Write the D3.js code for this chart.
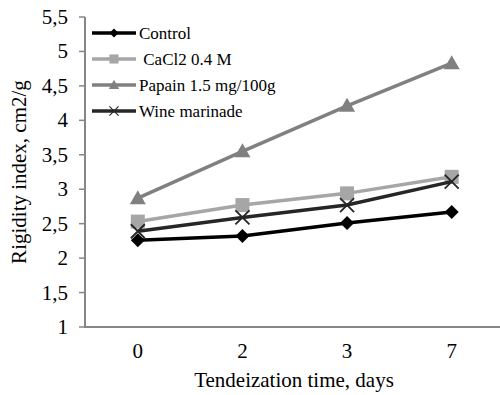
<!DOCTYPE html>
<html lang="en">
<head>
<meta charset="UTF-8">
<script src="https://d3js.org/d3.v7.min.js"></script>
<style>
  body { margin: 0; padding: 0; background: #fff; }
  svg { display: block; font-family: 'Liberation Serif', 'Times New Roman', serif; }
</style>
</head>
<body>
<svg width="500" height="395"></svg>
<script>
  const days = ["0", "2", "3", "7"];
  const control = [2.26, 2.32, 2.51, 2.67];
  const cacl2 = [2.53, 2.77, 2.94, 3.18];
  const papain = [2.87, 3.55, 4.21, 4.83];
  const wine = [2.39, 2.59, 2.77, 3.11];
  const yTicks = [1, 1.5, 2, 2.5, 3, 3.5, 4, 4.5, 5, 5.5];

  const series = [
    { name: "Control", values: control, color: "#000000", marker: "diamond" },
    { name: " CaCl2 0.4 M", values: cacl2, color: "#a6a6a6", marker: "square" },
    { name: "Papain 1.5 mg/100g", values: papain, color: "#808080", marker: "triangle" },
    { name: "Wine marinade", values: wine, color: "#262626", marker: "cross" }
  ];

  const svg = d3.select("svg");

  const x = d3.scaleBand().domain(days).range([85.5, 504]);
  const y = d3.scaleLinear().domain([1, 5.5]).range([327, 17]);

  // axes
  svg.append("line")
     .attr("x1", 85).attr("x2", 85)
     .attr("y1", y(5.5)).attr("y2", y(1))
     .attr("stroke", "#868686").attr("stroke-width", 2);
  svg.append("line")
     .attr("x1", 84).attr("x2", 500)
     .attr("y1", y(1)).attr("y2", y(1))
     .attr("stroke", "#868686").attr("stroke-width", 2);

  svg.selectAll(".ytick")
     .data(yTicks)
     .enter().append("line")
     .attr("x1", 79).attr("x2", 85)
     .attr("y1", d => y(d)).attr("y2", d => y(d))
     .attr("stroke", "#868686").attr("stroke-width", 1.5);

  svg.selectAll(".ylab")
     .data(yTicks)
     .enter().append("text")
     .attr("x", 68)
     .attr("y", d => y(d) + 7)
     .attr("text-anchor", "end")
     .attr("font-size", 21)
     .text(d => String(d).replace(".", ","));

  svg.selectAll(".xlab")
     .data(days)
     .enter().append("text")
     .attr("x", d => x(d) + x.bandwidth() / 2)
     .attr("y", 358)
     .attr("text-anchor", "middle")
     .attr("font-size", 21)
     .text(d => d);

  svg.append("text")
     .attr("x", 294).attr("y", 387)
     .attr("text-anchor", "middle")
     .attr("font-size", 21)
     .text("Tendeization time, days");

  svg.append("text")
     .attr("transform", "translate(26,172) rotate(-90)")
     .attr("text-anchor", "middle")
     .attr("font-size", 21)
     .text("Rigidity index, cm2/g");

  function drawMarker(g, type, color) {
    if (type === "diamond") {
      g.append("path").attr("d", "M0,-7L7,0L0,7L-7,0Z").attr("fill", color);
    } else if (type === "square") {
      g.append("rect").attr("x", -7).attr("y", -7).attr("width", 14).attr("height", 14).attr("fill", color);
    } else if (type === "triangle") {
      g.append("path").attr("d", "M0,-8L8,6L-8,6Z").attr("fill", color);
    } else {
      g.append("path").attr("d", "M-7,-7L7,7M-7,7L7,-7")
       .attr("stroke", color).attr("stroke-width", 1.8).attr("fill", "none");
    }
  }

  const line = d3.line()
    .x((d, i) => x(days[i]) + x.bandwidth() / 2)
    .y(d => y(d));

  series.forEach(s => {
    svg.append("path")
       .attr("d", line(s.values))
       .attr("fill", "none")
       .attr("stroke", s.color)
       .attr("stroke-width", 3.5);
    s.values.forEach((v, i) => {
      const g = svg.append("g")
        .attr("transform", `translate(${x(days[i]) + x.bandwidth() / 2},${y(v)})`);
      drawMarker(g, s.marker, s.color);
    });
  });

  // legend
  series.forEach((s, i) => {
    const ly = 33 + i * 26;
    svg.append("line")
       .attr("x1", 92).attr("x2", 136)
       .attr("y1", ly).attr("y2", ly)
       .attr("stroke", s.color).attr("stroke-width", 3.5);
    const g = svg.append("g")
      .attr("transform", `translate(114,${ly}) scale(0.65)`);
    drawMarker(g, s.marker, s.color);
    svg.append("text")
       .attr("x", 139).attr("y", ly + 6)
       .attr("font-size", 17)
       .attr("xml:space", "preserve")
       .style("white-space", "pre")
       .text(s.name);
  });
</script>
</body>
</html>
